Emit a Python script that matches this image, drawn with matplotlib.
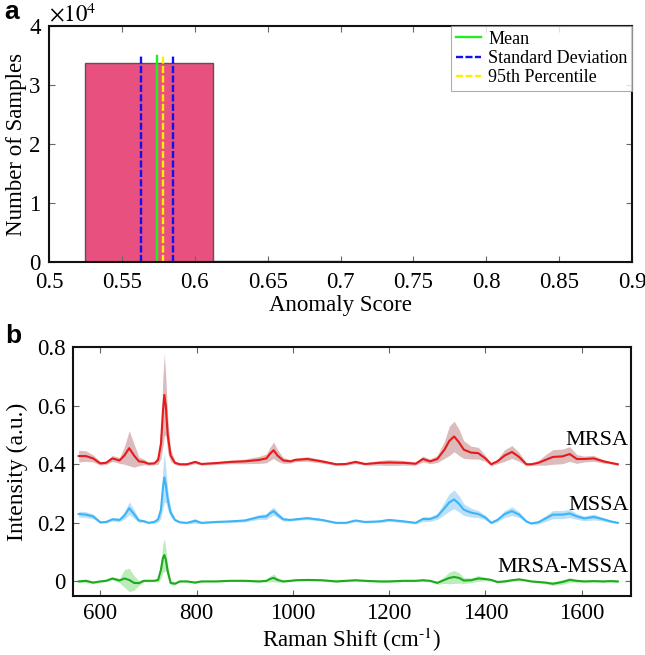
import matplotlib
matplotlib.use('Agg')
import matplotlib.pyplot as plt
from matplotlib.ticker import FuncFormatter, FormatStrFormatter
import numpy as np

plt.rcParams['font.family'] = ['Liberation Serif', 'DejaVu Serif']
plt.rcParams['mathtext.fontset'] = 'stix'

# ---- panel a: histogram of anomaly scores ----
bin_edges = [0.525, 0.6125, 0.7]
bin_counts = [33700, 180]
mean_score = 0.5741
std_scores = [0.5634, 0.5851]
p95_score = 0.5781
line_top = 35000

# ---- panel b: mean Raman spectra with spread ----
shift = [555, 570, 585, 600, 612, 625, 640, 650, 660, 670, 680, 690, 700, 712,
         720, 726, 730, 733, 736, 740, 746, 755, 765, 780, 797, 810, 840, 870,
         900, 930, 945, 952, 960, 968, 980, 995, 1005, 1030, 1060, 1090, 1110,
         1130, 1150, 1180, 1200, 1230, 1255, 1270, 1285, 1300, 1315, 1325, 1335,
         1345, 1355, 1370, 1385, 1400, 1412, 1425, 1440, 1455, 1470, 1485, 1495,
         1510, 1525, 1540, 1560, 1575, 1590, 1605, 1625, 1645, 1660, 1675]

mrsa = [0.428, 0.428, 0.420, 0.403, 0.405, 0.420, 0.413, 0.430, 0.455, 0.430,
        0.410, 0.408, 0.402, 0.403, 0.415, 0.470, 0.580, 0.637, 0.600, 0.500,
        0.430, 0.405, 0.400, 0.400, 0.408, 0.401, 0.404, 0.408, 0.410, 0.415,
        0.420, 0.435, 0.448, 0.430, 0.413, 0.410, 0.415, 0.418, 0.410, 0.400,
        0.401, 0.408, 0.401, 0.405, 0.406, 0.405, 0.402, 0.418, 0.410, 0.418,
        0.450, 0.480, 0.495, 0.475, 0.450, 0.440, 0.438, 0.420, 0.400, 0.410,
        0.430, 0.442, 0.425, 0.400, 0.400, 0.405, 0.415, 0.425, 0.427, 0.435,
        0.418, 0.418, 0.420, 0.410, 0.405, 0.400]
mrsa_sd = [0.020, 0.018, 0.012, 0.006, 0.006, 0.010, 0.010, 0.030, 0.060, 0.040,
           0.015, 0.010, 0.005, 0.005, 0.015, 0.050, 0.120, 0.140, 0.100, 0.060,
           0.020, 0.006, 0.004, 0.004, 0.006, 0.004, 0.005, 0.006, 0.008, 0.012,
           0.015, 0.022, 0.028, 0.020, 0.010, 0.006, 0.006, 0.008, 0.006, 0.004,
           0.004, 0.006, 0.004, 0.008, 0.010, 0.008, 0.005, 0.010, 0.008, 0.012,
           0.030, 0.050, 0.052, 0.045, 0.030, 0.022, 0.020, 0.010, 0.005, 0.008,
           0.020, 0.022, 0.015, 0.005, 0.004, 0.008, 0.018, 0.025, 0.025, 0.025,
           0.015, 0.010, 0.010, 0.006, 0.004, 0.003]

mssa = [0.230, 0.228, 0.222, 0.202, 0.203, 0.212, 0.210, 0.225, 0.250, 0.230,
        0.208, 0.206, 0.200, 0.203, 0.212, 0.245, 0.320, 0.355, 0.330, 0.280,
        0.235, 0.210, 0.202, 0.200, 0.207, 0.200, 0.203, 0.205, 0.208, 0.220,
        0.222, 0.232, 0.240, 0.228, 0.212, 0.210, 0.212, 0.216, 0.210, 0.200,
        0.200, 0.208, 0.203, 0.205, 0.210, 0.205, 0.200, 0.213, 0.213, 0.222,
        0.250, 0.270, 0.280, 0.265, 0.245, 0.235, 0.230, 0.218, 0.200, 0.210,
        0.230, 0.240, 0.228, 0.205, 0.198, 0.202, 0.215, 0.228, 0.228, 0.232,
        0.222, 0.215, 0.220, 0.212, 0.205, 0.200]
mssa_sd = [0.010, 0.010, 0.008, 0.004, 0.004, 0.006, 0.006, 0.012, 0.022, 0.015,
           0.006, 0.004, 0.003, 0.004, 0.010, 0.030, 0.070, 0.085, 0.060, 0.035,
           0.015, 0.005, 0.003, 0.003, 0.008, 0.003, 0.003, 0.004, 0.005, 0.008,
           0.010, 0.012, 0.014, 0.010, 0.006, 0.004, 0.004, 0.005, 0.004, 0.003,
           0.003, 0.004, 0.003, 0.004, 0.005, 0.004, 0.004, 0.008, 0.008, 0.010,
           0.022, 0.030, 0.032, 0.028, 0.020, 0.015, 0.012, 0.008, 0.004, 0.006,
           0.012, 0.015, 0.010, 0.004, 0.003, 0.006, 0.010, 0.014, 0.014, 0.014,
           0.010, 0.008, 0.010, 0.006, 0.004, 0.003]

diff = [0.000, 0.002, -0.004, 0.000, 0.002, 0.010, 0.003, 0.010, 0.005, -0.005,
        -0.006, 0.002, 0.002, 0.002, 0.005, 0.040, 0.080, 0.090, 0.075, 0.035,
        -0.005, -0.008, 0.000, 0.000, -0.004, 0.000, 0.000, 0.002, 0.002, 0.000,
        0.002, 0.008, 0.012, 0.005, 0.000, 0.002, 0.004, 0.005, 0.004, 0.000,
        0.002, 0.004, 0.002, 0.000, 0.000, 0.002, 0.002, 0.004, 0.002, -0.005,
        0.005, 0.012, 0.015, 0.012, 0.003, 0.004, 0.010, 0.008, 0.005, -0.002,
        0.000, 0.004, 0.007, 0.003, 0.000, -0.002, -0.004, -0.008, -0.002, 0.005,
        0.002, 0.000, 0.001, 0.000, 0.001, 0.000]
diff_sd = [0.005, 0.006, 0.004, 0.003, 0.003, 0.005, 0.008, 0.030, 0.040, 0.025,
           0.008, 0.004, 0.003, 0.003, 0.008, 0.030, 0.050, 0.055, 0.040, 0.020,
           0.008, 0.004, 0.002, 0.002, 0.003, 0.002, 0.002, 0.002, 0.003, 0.003,
           0.004, 0.010, 0.013, 0.008, 0.003, 0.003, 0.003, 0.003, 0.003, 0.003,
           0.003, 0.003, 0.003, 0.003, 0.003, 0.003, 0.003, 0.004, 0.004, 0.005,
           0.012, 0.020, 0.022, 0.018, 0.010, 0.008, 0.010, 0.006, 0.004, 0.003,
           0.004, 0.004, 0.004, 0.003, 0.003, 0.003, 0.004, 0.006, 0.008, 0.008,
           0.005, 0.003, 0.003, 0.003, 0.003, 0.003]

series_names = ['MRSA', 'MSSA', 'MRSA-MSSA']
label_y = [0.482, 0.259, 0.048]

FS = 16.5


def style_box(ax):
    for sp in ax.spines.values():
        sp.set_linewidth(1.5)
        sp.set_color('#111111')
    ax.tick_params(direction='in', top=True, right=True, length=4,
                   width=0.8, color='#666666', labelsize=FS, pad=5)


fig = plt.figure(figsize=(6.45, 6.55), dpi=100)

# panel a
ax1 = fig.add_axes([0.076, 0.600, 0.904, 0.360])
widths = np.diff(bin_edges)
ax1.bar(bin_edges[:-1], bin_counts, width=widths, align='edge',
        color='#E8507F', edgecolor='#555555', linewidth=1.0)
ax1.plot([mean_score, mean_score], [0, line_top], color='#22EE22', lw=1.7,
         label='Mean')
for i, s in enumerate(std_scores):
    ax1.plot([s, s], [0, line_top], color='#1010F0', lw=1.7, dashes=(3, 1.0),
             label='Standard Deviation' if i == 0 else None)
ax1.plot([p95_score, p95_score], [0, line_top], color='#FFF000', lw=1.7,
         dashes=(3, 1.0), label='95th Percentile')

ax1.set_xlim(0.5, 0.9)
ax1.set_ylim(0, 40000)
ax1.set_xticks(np.arange(0.5, 0.9001, 0.05))
ax1.xaxis.set_major_formatter(FormatStrFormatter('%g'))
ax1.set_yticks([0, 10000, 20000, 30000, 40000])
ax1.yaxis.set_major_formatter(FuncFormatter(lambda v, p: '%g' % (v / 1e4)))
style_box(ax1)
ax1.tick_params(axis='y', pad=6)
ax1.tick_params(axis='x', pad=7)
ax1.set_xlabel('Anomaly Score', fontsize=FS, labelpad=2)
ax1.set_ylabel('Number of Samples', fontsize=FS)
ax1.yaxis.set_label_coords(-0.038, 0.5)
ax1.text(0.0, 1.0, r'$\times10^{4}$', transform=ax1.transAxes,
         fontsize=FS, ha='left', va='bottom')
leg = ax1.legend(loc='upper right', fontsize=13, frameon=True, fancybox=False,
                 borderaxespad=0, borderpad=0.25, labelspacing=0.12,
                 handlelength=1.4, handletextpad=0.4)
leg.get_frame().set_edgecolor('#999999')
leg.get_frame().set_linewidth(0.8)

# panel b
ax2 = fig.add_axes([0.113, 0.090, 0.865, 0.380])
colors = [('#E8191B', '#CFA5A5'), ('#3CB4F8', '#A6D6F6'), ('#1EAA1E', '#A6E6A6')]
for (mean, sd), (lc, fc) in zip([(mrsa, mrsa_sd), (mssa, mssa_sd), (diff, diff_sd)], colors):
    m = np.array(mean)
    d = np.array(sd)
    ax2.fill_between(shift, m - d, m + d, color=fc, alpha=0.75, linewidth=0)
    ax2.plot(shift, m, color=lc, lw=1.5)

for name, y in zip(series_names, label_y):
    ax2.text(1698, y, name, fontsize=FS - 0.5, ha='right', va='center')

ax2.set_xlim(543, 1702)
ax2.set_ylim(-0.05, 0.8)
ax2.set_xticks(np.arange(600, 1601, 200))
ax2.set_yticks([0, 0.2, 0.4, 0.6, 0.8])
ax2.yaxis.set_major_formatter(FormatStrFormatter('%g'))
style_box(ax2)
ax2.set_xlabel(r'Raman Shift (cm$^{\text{-1}}$)', fontsize=FS, labelpad=1)
ax2.set_ylabel('Intensity (a.u.)', fontsize=FS + 0.5)
ax2.yaxis.set_label_coords(-0.080, 0.5)

fig.text(0.006, 0.982, 'a', fontsize=19, fontweight='bold',
         family='Liberation Sans', va='center')
fig.text(0.008, 0.487, 'b', fontsize=19, fontweight='bold',
         family='Liberation Sans', va='center')

fig.savefig('out.png', dpi=100)
